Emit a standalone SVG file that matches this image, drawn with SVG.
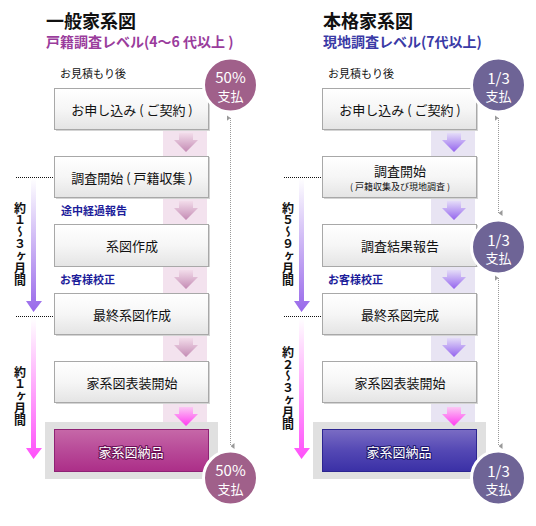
<svg xmlns="http://www.w3.org/2000/svg" width="536" height="526" viewBox="0 0 536 526">
<defs>
<style>
text{font-family:"Noto Sans CJK JP","Noto Sans",sans-serif;}
.title{font-size:18px;font-weight:bold;fill:#111;}
.sub1{font-size:14px;font-weight:bold;fill:#9a3c9c;}
.sub2{font-size:14px;font-weight:bold;fill:#3a3aa6;}
.note{font-size:11px;fill:#111;}
.lbl{font-size:11px;font-weight:bold;fill:#1c1c9a;}
.box{fill:url(#gBox);stroke:#a8a8a8;stroke-width:1;}
.shadow{fill:#d4d4d4;}
.bt{font-size:13px;fill:#111;text-anchor:middle;}
.bts{font-size:9px;fill:#111;text-anchor:middle;}
.fin{font-size:13px;fill:#fff;text-anchor:middle;stroke-width:2.2;paint-order:stroke;stroke-linejoin:round;}
.ct{fill:#fff;text-anchor:middle;}
.c1{font-size:15px;}
.c2{font-size:13px;}
.vt{font-size:12px;font-weight:bold;fill:#111;writing-mode:vertical-rl;text-orientation:upright;}
.dot{stroke:#111;stroke-width:1;stroke-dasharray:1 1;fill:none;}
.gdot{stroke:#999;stroke-width:1;stroke-dasharray:1 1;fill:none;}
</style>
<linearGradient id="gBox" x1="0" y1="0" x2="0" y2="1"><stop offset="0" stop-color="#ffffff"/><stop offset="0.5" stop-color="#f6f6f6"/><stop offset="1" stop-color="#e4e4e4"/></linearGradient>
<linearGradient id="gArrP" x1="0" y1="0" x2="0" y2="1"><stop offset="0" stop-color="#f2dcea"/><stop offset="1" stop-color="#c48bb4"/></linearGradient>
<linearGradient id="gArrV" x1="0" y1="0" x2="0" y2="1"><stop offset="0" stop-color="#e4dcf8"/><stop offset="1" stop-color="#9464ee"/></linearGradient>
<linearGradient id="gArrM" x1="0" y1="0" x2="0" y2="1"><stop offset="0" stop-color="#fbc8f4"/><stop offset="1" stop-color="#ff3cf0"/></linearGradient>
<linearGradient id="gVP" x1="0" y1="0" x2="0" y2="1"><stop offset="0" stop-color="#ffffff"/><stop offset="1" stop-color="#9868ea"/></linearGradient>
<linearGradient id="gVM" x1="0" y1="0" x2="0" y2="1"><stop offset="0" stop-color="#ffffff"/><stop offset="1" stop-color="#ff50fa"/></linearGradient>
<linearGradient id="gFinP" x1="0" y1="0" x2="0" y2="1"><stop offset="0" stop-color="#c668a8"/><stop offset="0.5" stop-color="#b84a98"/><stop offset="1" stop-color="#ac2e88"/></linearGradient>
<linearGradient id="gFinV" x1="0" y1="0" x2="0" y2="1"><stop offset="0" stop-color="#7a6cc4"/><stop offset="0.5" stop-color="#5448b4"/><stop offset="1" stop-color="#3a30a6"/></linearGradient>
<path id="arr" d="M-7,0 H7 V7 H12 L0,19 L-12,7 H-7 Z"/>
<marker id="mEnd" viewBox="0 0 6 4" refX="3" refY="4" markerWidth="6" markerHeight="4" orient="auto-start-reverse" markerUnits="userSpaceOnUse"><path d="M0,0 L6,0 L3,4 Z" fill="#999"/></marker>
</defs>
<rect width="536" height="526" fill="#ffffff"/>

<!-- LEFT PANEL -->
<g id="left-header">
<text class="title" x="46" y="28">一般家系図</text>
<text class="sub1" x="46" y="47">戸籍調査レベル(4〜6 代以上 )</text>
<text class="note" x="60" y="78">お見積もり後</text>
</g>
<rect id="left-strip" x="163" y="130" width="44" height="293" fill="#f3e2ee"/>
<rect id="left-final-bg" x="45" y="422" width="173" height="57" fill="#e0e0e0"/>

<g id="left-n1"><rect class="shadow" x="56" y="89" width="154" height="42"/><rect class="box" x="54.5" y="88.5" width="154" height="41"/><text class="bt" x="132" y="115">お申し込み ( ご契約 )</text></g>
<g id="left-n2"><rect class="shadow" x="56" y="157" width="154" height="42"/><rect class="box" x="54.5" y="156.5" width="154" height="41"/><text class="bt" x="132" y="183">調査開始 ( 戸籍収集 )</text></g>
<g id="left-n3"><rect class="shadow" x="56" y="225" width="154" height="42"/><rect class="box" x="54.5" y="224.5" width="154" height="42"/><text class="bt" x="132" y="251">系図作成</text></g>
<g id="left-n4"><rect class="shadow" x="56" y="294" width="154" height="42"/><rect class="box" x="54.5" y="293.5" width="154" height="41"/><text class="bt" x="132" y="320">最終系図作成</text></g>
<g id="left-n5"><rect class="shadow" x="56" y="362" width="154" height="42"/><rect class="box" x="54.5" y="361.5" width="154" height="41"/><text class="bt" x="132" y="388">家系図表装開始</text></g>
<g id="left-n6"><rect x="54.5" y="429.5" width="154" height="42" fill="url(#gFinP)" stroke="#8e2274"/><text class="fin" x="131" y="457" stroke="#6c1256">家系図納品</text></g>

<g id="left-labels">
<text class="lbl" x="61" y="215">途中経過報告</text>
<text class="lbl" x="60" y="284">お客様校正</text>
</g>

<g id="left-pay-top"><circle cx="230.5" cy="85" r="27" fill="#a0608a" stroke="#ffffff" stroke-width="3"/><text class="ct c1" x="230.5" y="83">50%</text><text class="ct c2" x="230.5" y="101">支払</text></g>
<g id="left-pay-bottom"><circle cx="230.5" cy="478" r="27" fill="#a0608a" stroke="#ffffff" stroke-width="3"/><text class="ct c1" x="230.5" y="476">50%</text><text class="ct c2" x="230.5" y="494">支払</text></g>

<g id="left-period1">
<line class="dot" x1="16" y1="177.5" x2="53" y2="177.5"/>
<path d="M31,178 H36 V301 H42 L33.5,312 L26,301 H31 Z" fill="url(#gVP)"/>
<text class="vt" x="20" y="202">約１〜３ヶ月間</text>
</g>
<g id="left-period2">
<line class="dot" x1="16" y1="316.5" x2="53" y2="316.5"/>
<path d="M31,318 H36 V448 H42 L33.5,459 L26,448 H31 Z" fill="url(#gVM)"/>
<text class="vt" x="20" y="366">約１ヶ月間</text>
</g>

<g id="left-connectors">
<use href="#arr" x="186" y="133" fill="url(#gArrP)"/>
<use href="#arr" x="186" y="201" fill="url(#gArrP)"/>
<use href="#arr" x="186" y="270" fill="url(#gArrP)"/>
<use href="#arr" x="186" y="338" fill="url(#gArrP)"/>
<use href="#arr" x="186" y="407" fill="url(#gArrM)"/>
<line class="gdot" x1="230.5" y1="118" x2="230.5" y2="446" marker-start="url(#mEnd)" marker-end="url(#mEnd)"/>
</g>

<!-- RIGHT PANEL -->
<g id="right-header">
<text class="title" x="323" y="28">本格家系図</text>
<text class="sub2" x="323" y="47">現地調査レベル(7代以上)</text>
<text class="note" x="328" y="78">お見積もり後</text>
</g>
<rect id="right-strip" x="431" y="130" width="44" height="293" fill="#e8e4f3"/>
<rect id="right-final-bg" x="313" y="422" width="173" height="57" fill="#e0e0e0"/>

<g id="right-n1"><rect class="shadow" x="324" y="89" width="154" height="42"/><rect class="box" x="322.5" y="88.5" width="154" height="41"/><text class="bt" x="400" y="115">お申し込み ( ご契約 )</text></g>
<g id="right-n2"><rect class="shadow" x="324" y="157" width="154" height="42"/><rect class="box" x="322.5" y="156.5" width="154" height="41"/><text class="bt" x="400" y="176">調査開始</text><text class="bts" x="400" y="190">( 戸籍収集及び現地調査 )</text></g>
<g id="right-n3"><rect class="shadow" x="324" y="225" width="154" height="42"/><rect class="box" x="322.5" y="224.5" width="154" height="42"/><text class="bt" x="400" y="251">調査結果報告</text></g>
<g id="right-n4"><rect class="shadow" x="324" y="294" width="154" height="42"/><rect class="box" x="322.5" y="293.5" width="154" height="41"/><text class="bt" x="400" y="320">最終系図完成</text></g>
<g id="right-n5"><rect class="shadow" x="324" y="362" width="154" height="42"/><rect class="box" x="322.5" y="361.5" width="154" height="41"/><text class="bt" x="400" y="388">家系図表装開始</text></g>
<g id="right-n6"><rect x="322.5" y="429.5" width="154" height="42" fill="url(#gFinV)" stroke="#2c2590"/><text class="fin" x="399" y="457" stroke="#221a70">家系図納品</text></g>

<g id="right-labels">
<text class="lbl" x="328" y="284">お客様校正</text>
</g>

<g id="right-pay-top"><circle cx="498.5" cy="85" r="27" fill="#6e6496" stroke="#ffffff" stroke-width="3"/><text class="ct c1" x="498.5" y="84">1/3</text><text class="ct c2" x="498.5" y="101">支払</text></g>
<g id="right-pay-mid"><circle cx="498.5" cy="247" r="27" fill="#6e6496" stroke="#ffffff" stroke-width="3"/><text class="ct c1" x="498.5" y="246">1/3</text><text class="ct c2" x="498.5" y="263">支払</text></g>
<g id="right-pay-bottom"><circle cx="498.5" cy="478" r="27" fill="#6e6496" stroke="#ffffff" stroke-width="3"/><text class="ct c1" x="498.5" y="477">1/3</text><text class="ct c2" x="498.5" y="494">支払</text></g>

<g id="right-period1">
<line class="dot" x1="284" y1="177.5" x2="321" y2="177.5"/>
<path d="M299,178 H304 V301 H310 L301.5,312 L294,301 H299 Z" fill="url(#gVP)"/>
<text class="vt" x="288" y="202">約５〜９ヶ月間</text>
</g>
<g id="right-period2">
<line class="dot" x1="284" y1="316.5" x2="321" y2="316.5"/>
<path d="M299,318 H304 V448 H310 L301.5,459 L294,448 H299 Z" fill="url(#gVM)"/>
<text class="vt" x="288" y="346">約２〜３ヶ月間</text>
</g>

<g id="right-connectors">
<use href="#arr" x="454" y="133" fill="url(#gArrV)"/>
<use href="#arr" x="454" y="201" fill="url(#gArrV)"/>
<use href="#arr" x="454" y="270" fill="url(#gArrV)"/>
<use href="#arr" x="454" y="338" fill="url(#gArrV)"/>
<use href="#arr" x="454" y="407" fill="url(#gArrM)"/>
<line class="gdot" x1="498.5" y1="118" x2="498.5" y2="213" marker-start="url(#mEnd)" marker-end="url(#mEnd)"/>
<line class="gdot" x1="498.5" y1="278" x2="498.5" y2="446" marker-start="url(#mEnd)" marker-end="url(#mEnd)"/>
</g>
</svg>
